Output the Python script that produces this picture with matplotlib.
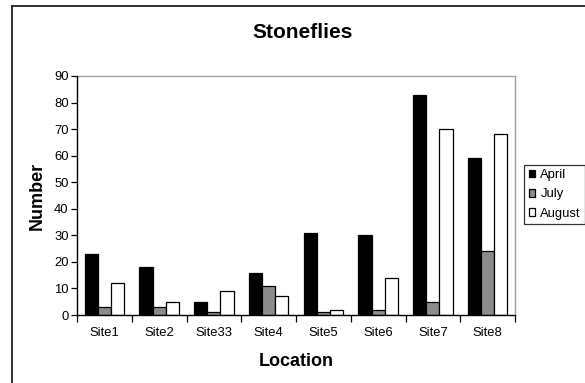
import matplotlib
matplotlib.use("Agg")
import matplotlib.pyplot as plt
import numpy as np
from matplotlib.lines import Line2D

plt.rcParams['font.family'] = ['Liberation Sans', 'DejaVu Sans']

sites = ["Site1", "Site2", "Site33", "Site4", "Site5", "Site6", "Site7", "Site8"]
april = [23, 18, 5, 16, 31, 30, 83, 59]
july = [3, 3, 1, 11, 1, 2, 5, 24]
august = [12, 5, 9, 7, 2, 14, 70, 68]
series_names = ["April", "July", "August"]
colors = ["#000000", "#8c8c8c", "#ffffff"]
yticks = list(range(0, 91, 10))

W, H = 585, 383
fig = plt.figure(figsize=(W / 100, H / 100), dpi=100)
ax = fig.add_axes([77 / W, 1 - 315 / H, (515 - 77) / W, (315 - 76) / H])

x = np.arange(len(sites))
bw = 0.24
for i, (vals, name, c) in enumerate(zip([april, july, august], series_names, colors)):
    ax.bar(x + (i - 1) * bw, vals, width=bw, color=c, edgecolor="black",
           linewidth=0.9, label=name, zorder=3)

ax.set_xlim(-0.5, len(sites) - 0.5)
ax.set_ylim(0, 90)
ax.set_yticks(yticks)
ax.set_xticks(x)
ax.set_xticklabels(sites, fontsize=9.4)
ax.set_xticks(np.arange(-0.5, len(sites), 1.0), minor=True)
ax.tick_params(axis="x", which="major", length=0, pad=9)
ax.tick_params(axis="x", which="minor", length=5, width=0.9, direction="out")
ax.tick_params(axis="y", length=4, width=0.9, direction="out", labelsize=9.4, pad=2)

for s in ["top", "right"]:
    ax.spines[s].set_color("#a0a0a0")
    ax.spines[s].set_linewidth(1.0)
for s in ["left", "bottom"]:
    ax.spines[s].set_color("black")
    ax.spines[s].set_linewidth(1.0)
    ax.spines[s].set_zorder(4)

ax.set_xlabel("Location", fontsize=13, fontweight="bold", labelpad=10)
ax.set_ylabel("Number", fontsize=13, fontweight="bold", labelpad=6)

fig.text(303 / W, 1 - 33 / H, "Stoneflies", fontsize=15, fontweight="bold",
         ha="center", va="center")

leg = fig.legend(loc="center left", bbox_to_anchor=(524 / W, 1 - 194.5 / H),
                 bbox_transform=fig.transFigure, fontsize=9.4, frameon=True,
                 fancybox=False, edgecolor="black", borderpad=0.35,
                 handlelength=0.5, handleheight=0.5, handletextpad=0.4,
                 labelspacing=0.55, borderaxespad=0)
leg.get_frame().set_linewidth(0.9)

# outer chart border (left and top visible)
fig.add_artist(Line2D([12 / W, 12 / W], [1 - 6 / H, -0.05], transform=fig.transFigure,
                      color="#222222", linewidth=1.3))
fig.add_artist(Line2D([12 / W, 1.05], [1 - 6 / H, 1 - 6 / H], transform=fig.transFigure,
                      color="#222222", linewidth=1.3))

fig.savefig("out.png", dpi=100)
